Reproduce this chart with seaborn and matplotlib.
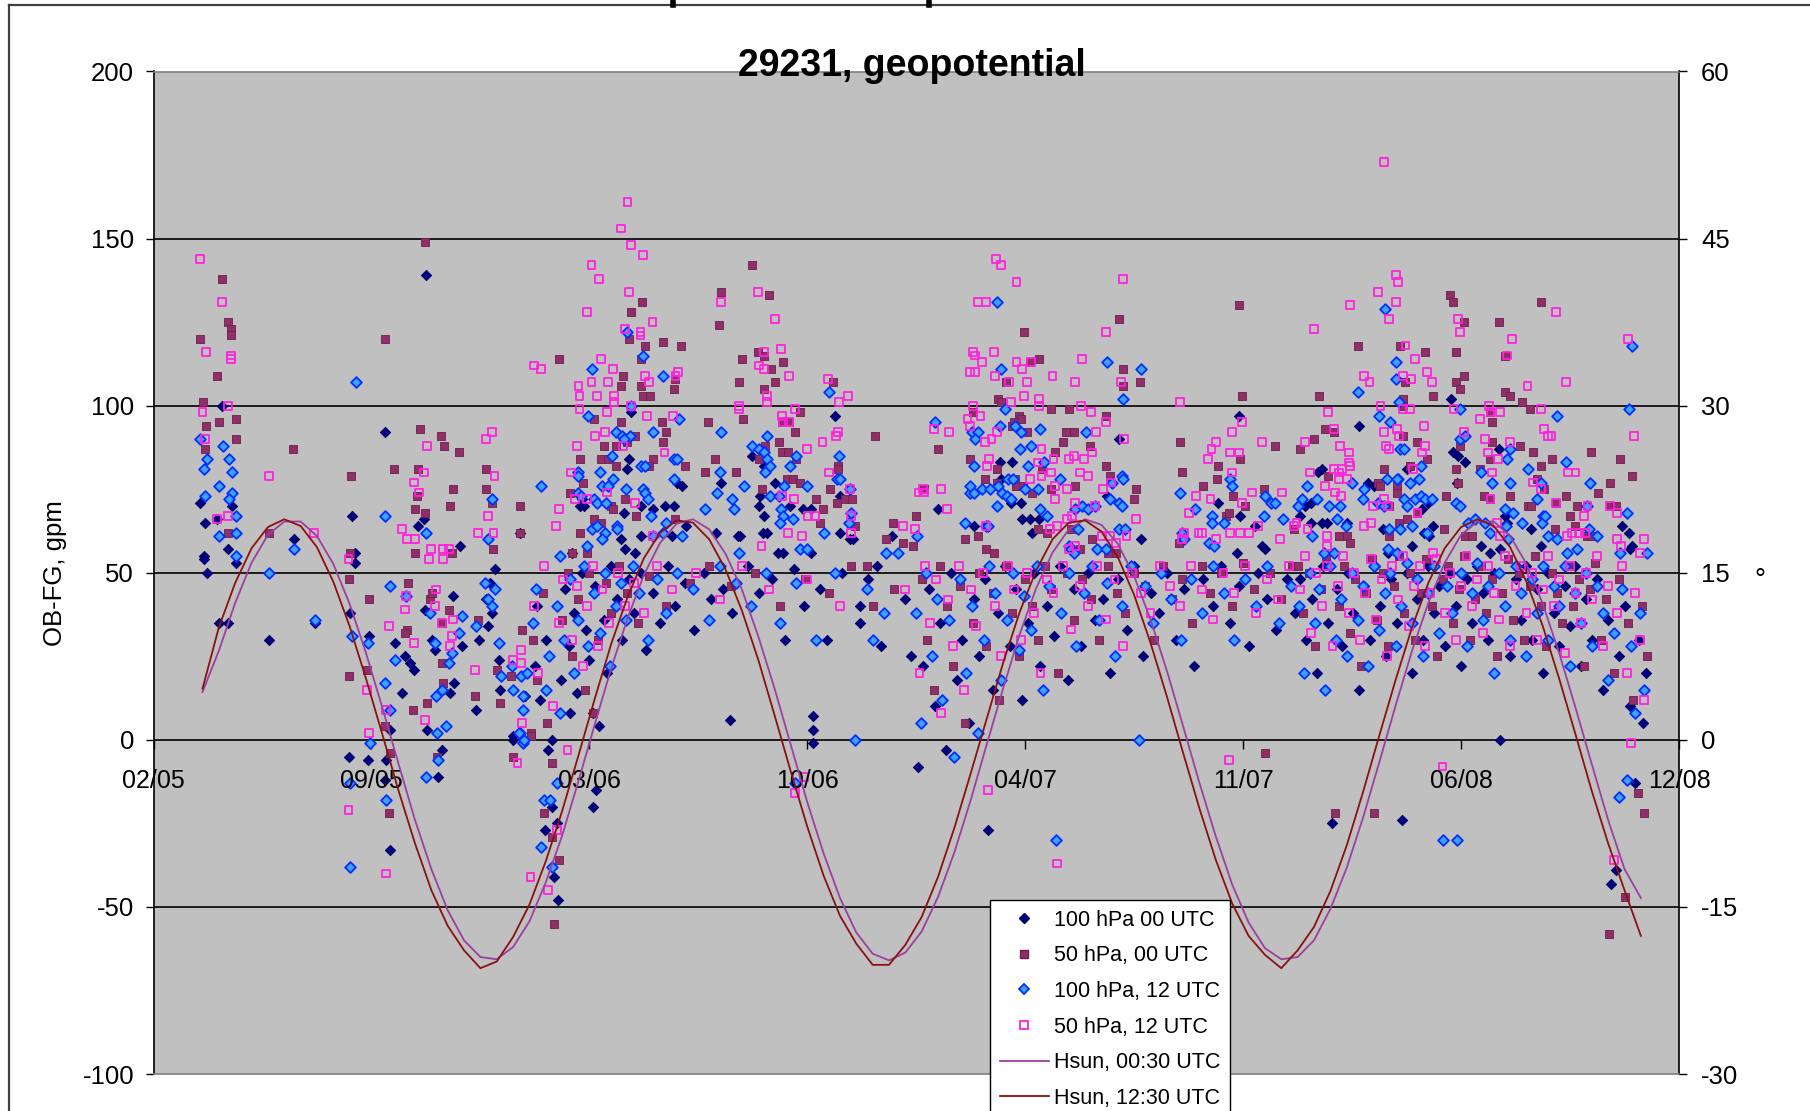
import numpy as np
import pandas as pd
import matplotlib
matplotlib.use("Agg")
import matplotlib.pyplot as plt
import matplotlib.dates as mdates
from matplotlib.lines import Line2D
import seaborn as sns

START = pd.Timestamp("2005-02-18")   # left end of the date axis
SPAN_DAYS = 1400
TICK_STEP = 200
x_tick_labels = ["02/05", "09/05", "03/06", "10/06", "04/07", "11/07", "06/08", "12/08"]

# OB-FG departures (gpm) as (day since START, value)
obs_100_00 = [
    (250, 139), (63, 100), (43, 71), (72, 70), (58, 66), (47, 65), (68, 57), (46, 55), (182, 67), (212, 92),
    (129, 60), (185, 56), (248, 66), (243, 64), (281, 58), (336, 62),
    (46, 54), (76, 53), (49, 50), (60, 35), (68, 35), (106, 30), (148, 35), (185, 53), (180, 38), (198, 31),
    (217, 3), (179, -5), (197, -6), (213, -6), (212, -12), (217, -33), (222, 29), (231, 25), (235, 23), (239, 21),
    (228, 14), (251, 3), (265, -3), (261, -11), (249, 39), (256, 30), (258, 27), (275, 43), (272, 14), (276, 17),
    (283, 28), (307, 34), (299, 30), (296, 9), (318, 15), (317, 24), (341, 13), (330, 0), (313, 51), (309, 47),
    (311, 38), (305, 42),
    (366, -20), (359, -27), (370, -25), (403, -20), (406, -15), (409, 4), (403, 8), (382, 8), (330, 1), (366, 0),
    (529, 6), (605, 7), (605, 3), (605, -1),
    (438, 98), (436, 84), (435, 81), (480, 77), (485, 76), (393, 72), (391, 70), (395, 70), (432, 68), (447, 70),
    (458, 69), (469, 70), (478, 70), (429, 60), (447, 61), (433, 57), (442, 56), (384, 56), (549, 85), (520, 80),
    (560, 82), (521, 77), (570, 77), (557, 73), (556, 70), (584, 70), (596, 69), (603, 69), (560, 67), (516, 62),
    (536, 61), (538, 61), (559, 62), (563, 62), (573, 56), (578, 56), (603, 56), (625, 97), (630, 73), (639, 60),
    (642, 60), (630, 62), (678, 61), (489, 64), (476, 61),
    (996, 97), (720, 69), (777, 83), (788, 83), (778, 78), (785, 72), (787, 71), (796, 71), (797, 66), (804, 66),
    (813, 66), (875, 73), (906, 60), (753, 64), (806, 62), (886, 90), (977, 71), (997, 67), (1011, 64), (1017, 58),
    (1020, 57), (1052, 67), (994, 56),
    (1191, 102), (1106, 94), (1193, 86), (1197, 85), (1204, 83), (1235, 87), (1069, 80), (1072, 81), (1115, 77),
    (1150, 81), (1196, 77), (1057, 70), (1068, 72), (1062, 71), (1164, 69), (1170, 71), (1062, 65), (1072, 65),
    (1077, 65), (1095, 65), (1128, 63), (1166, 62), (1174, 64), (1171, 61), (1155, 58), (1133, 56), (1240, 67),
    (1242, 65), (1264, 63), (1273, 58), (1218, 58), (1236, 57), (1227, 56), (1348, 64), (1354, 62), (1357, 58),
    (1355, 57), (1120, 76),
    (350, 22), (352, 40), (355, 12), (360, 30), (362, -3), (368, -41), (371, -48), (374, 18), (378, 45), (381, 28),
    (386, 38), (389, 14), (393, 50), (397, 33), (400, 24), (405, 46), (413, 36), (416, 20), (420, 52), (425, 42),
    (430, 30), (436, 48), (441, 38), (447, 50), (452, 27), (458, 44), (465, 35), (472, 52), (479, 40), (488, 47),
    (496, 33), (505, 50), (512, 42), (523, 45), (531, 38), (546, 52), (556, 44), (568, 48), (580, 30), (588, 51),
    (597, 40), (612, 45), (618, 30), (632, 50), (648, 35), (656, 48), (664, 52), (690, 42), (695, 25),
    (648, 40), (668, 28), (702, -8), (706, 22), (712, 45), (717, 10), (722, 35), (727, -3), (732, 50), (737, 18),
    (742, 30), (748, 5), (753, 42), (758, 25), (763, 48), (766, -27), (770, 15), (775, 38), (781, 52), (786, 28),
    (792, 45), (797, 12), (803, 35), (808, 50), (814, 22), (820, 40), (826, 31), (832, 52), (839, 18), (845, 45),
    (851, 28), (858, 50), (864, 36), (871, 42), (878, 20), (885, 48), (893, 33), (900, 52), (908, 25), (915, 44),
    (923, 38), (930, 50), (938, 30), (946, 45), (955, 22), (963, 48), (972, 40), (980, 52), (988, 35), (996, 46),
    (1005, 28), (1014, 50), (1022, 42), (1030, 33), (1040, 48), (1048, 38),
    (1052, 48), (1058, 30), (1063, 42), (1068, 20), (1073, 52), (1078, 35), (1082, -25), (1086, 45), (1091, 28),
    (1096, 50), (1101, 38), (1106, 15), (1111, 46), (1116, 30), (1121, 52), (1126, 40), (1131, 25), (1136, 48),
    (1141, 35), (1146, -24), (1150, 50), (1155, 20), (1160, 42), (1165, 30), (1170, 52), (1175, 38), (1180, 46),
    (1185, 28), (1190, 50), (1195, 40), (1200, 22), (1205, 48), (1210, 35), (1215, 52), (1220, 44), (1225, 30),
    (1230, 50), (1236, 0), (1240, 40), (1245, 25), (1250, 48), (1255, 36), (1260, 52), (1265, 30), (1270, 45),
    (1275, 20), (1280, 50), (1285, 38), (1290, 28), (1295, 46), (1300, 34), (1305, 52), (1310, 22), (1315, 42),
    (1320, 30), (1325, 48), (1330, 15), (1335, 36), (1338, -43), (1342, -39), (1345, 25), (1350, 40), (1355, 10),
    (1360, -13), (1363, 30), (1367, 5), (1370, 20),
]

obs_50_00 = [
    (63, 138), (68, 125), (71, 123), (71, 121), (43, 120), (58, 109), (212, 120), (249, 149), (45, 101), (48, 94),
    (60, 95), (76, 96), (76, 90), (47, 87), (128, 87), (181, 79), (106, 62), (180, 56), (221, 81), (243, 81),
    (242, 73), (240, 69), (249, 68), (245, 93), (264, 91), (267, 88), (280, 86), (275, 75), (272, 70), (240, 56),
    (274, 56), (305, 81), (305, 75), (311, 71), (312, 57), (336, 70), (336, 62), (68, 62),
    (179, 48), (198, 42), (196, 21), (179, 19), (212, 4), (217, -4), (216, -22), (234, 47), (233, 33), (231, 32),
    (238, 9), (251, 11), (260, -5), (254, 42), (256, 44), (265, 35), (271, 39), (265, 23), (266, 17), (298, 36),
    (295, 13), (318, 11), (315, 21), (328, 19), (338, 33), (346, 2), (330, -5),
    (366, -7), (358, -22), (366, -29), (403, 8), (346, 1),
    (448, 131), (438, 128), (436, 120), (451, 118), (468, 119), (484, 118), (447, 114), (372, 114), (431, 109),
    (479, 108), (429, 106), (447, 106), (449, 103), (456, 103), (478, 105), (404, 96), (429, 95), (467, 95),
    (470, 92), (442, 91), (413, 88), (424, 88), (435, 89), (468, 89), (391, 84), (411, 84), (417, 84), (458, 84),
    (424, 82), (455, 82), (488, 82), (394, 77), (382, 74), (420, 70), (422, 69), (433, 72), (443, 67), (479, 66),
    (404, 66), (411, 65), (391, 62), (384, 56), (398, 56),
    (549, 142), (521, 134), (565, 133), (519, 124), (540, 114), (555, 116), (560, 115), (578, 113), (567, 111),
    (537, 107), (570, 107), (560, 105), (593, 98), (541, 96), (509, 95), (577, 95), (583, 95), (589, 92), (574, 89),
    (561, 88), (577, 86), (582, 86), (556, 84), (590, 84), (515, 84), (535, 80), (506, 80), (581, 78), (587, 78),
    (593, 77), (558, 75), (608, 72), (614, 69), (612, 65), (624, 107), (628, 82), (628, 81), (621, 75), (635, 72),
    (641, 72), (627, 71), (644, 64), (662, 91), (679, 65), (700, 67), (672, 60), (688, 59), (697, 58),
    (886, 126), (996, 130), (799, 122), (804, 113), (813, 114), (890, 111), (905, 107), (782, 107), (890, 106),
    (775, 102), (778, 101), (999, 103), (824, 99), (840, 99), (752, 98), (794, 97), (796, 96), (788, 94), (874, 97),
    (837, 92), (845, 92), (802, 92), (790, 95), (942, 89), (1029, 88), (1052, 87), (997, 84), (720, 87), (749, 84),
    (835, 89), (859, 88), (827, 86), (774, 81), (815, 81), (874, 82), (878, 79), (707, 75), (763, 78), (774, 77),
    (791, 78), (792, 76), (798, 76), (806, 74), (824, 75), (846, 76), (902, 75), (900, 72), (944, 80), (963, 76),
    (977, 82), (976, 78), (991, 73), (1002, 70), (1019, 75), (984, 67), (987, 68), (745, 60), (757, 61), (764, 57),
    (771, 56), (812, 63), (820, 62), (842, 63), (850, 57), (861, 60), (876, 56), (883, 56), (941, 59), (1047, 63),
    (1190, 133), (1193, 131), (1273, 131), (1203, 125), (1235, 125), (1105, 118), (1144, 118), (1167, 116),
    (1195, 116), (1240, 115), (1149, 107), (1203, 109), (1195, 107), (1070, 103), (1174, 103), (1199, 105),
    (1147, 102), (1240, 104), (1245, 103), (1256, 101), (1147, 100), (1263, 99), (1227, 98), (1075, 93), (1083, 92),
    (1147, 91), (1228, 95), (1065, 90), (1160, 89), (1169, 84), (1199, 88), (1228, 89), (1227, 84), (1254, 88),
    (1266, 86), (1283, 84), (1319, 86), (1346, 84), (1273, 82), (1357, 79), (1337, 77), (1326, 74), (1078, 79),
    (1129, 81), (1124, 77), (1126, 76), (1153, 82), (1141, 76), (1141, 74), (1217, 81), (1195, 81), (1197, 77),
    (1270, 78), (1276, 75), (1134, 70), (1186, 73), (1221, 73), (1227, 72), (1245, 73), (1261, 70), (1264, 70),
    (1287, 71), (1296, 73), (1306, 70), (1300, 67), (1337, 70), (1342, 70), (1088, 61), (1095, 61), (1098, 59),
    (1134, 61), (1143, 65), (1150, 66), (1184, 63), (1204, 61), (1210, 61), (1286, 63), (1305, 64), (1316, 61),
    (1319, 61), (1160, 68),
    (348, 30), (352, 18), (357, 44), (361, 5), (368, -55), (372, -36), (375, 36), (380, 50), (384, 25), (390, 42),
    (396, 15), (400, 50), (408, 30), (415, 47), (420, 38), (427, 52), (435, 44), (445, 35), (455, 49), (470, 40),
    (492, 47), (510, 52), (530, 46), (552, 50), (575, 40), (598, 48), (620, 44), (640, 52), (660, 40),
    (655, 52), (680, 45), (705, 48), (710, 30), (716, 15), (722, 52), (728, 40), (734, 22), (740, 46), (745, 5),
    (752, 35), (758, 50), (764, 28), (770, 44), (776, 12), (782, 52), (788, 38), (794, 25), (800, 48), (806, 40),
    (812, 30), (818, 52), (824, 45), (830, 20), (838, 50), (845, 36), (852, 48), (860, 42), (868, 30), (876, 52),
    (884, 44), (892, 38), (900, 50), (910, 46), (918, 30), (926, 52), (935, 42), (944, 48), (953, 35), (962, 52),
    (970, 44), (980, 50), (990, 40), (1000, 53), (1010, 45), (1020, -4), (1025, 50), (1035, 42), (1045, 52),
    (1050, 52), (1055, 38), (1060, 50), (1066, 28), (1071, 45), (1076, 55), (1084, -22), (1088, 40), (1093, 52),
    (1098, 32), (1103, 48), (1108, 22), (1113, 44), (1118, 54), (1120, -22), (1123, 36), (1128, 50), (1133, 28),
    (1138, 46), (1143, 55), (1148, 38), (1153, 50), (1158, 30), (1163, 44), (1168, 54), (1173, 40), (1178, 25),
    (1183, 48), (1188, 52), (1193, 35), (1198, 45), (1203, 55), (1208, 30), (1213, 42), (1218, 52), (1223, 38),
    (1228, 48), (1233, 25), (1238, 44), (1243, 54), (1248, 36), (1253, 50), (1258, 30), (1263, 46), (1268, 55),
    (1273, 40), (1278, 28), (1283, 50), (1288, 44), (1293, 35), (1298, 52), (1303, 40), (1308, 48), (1313, 22),
    (1318, 45), (1323, 53), (1328, 30), (1333, 42), (1336, -58), (1340, 20), (1345, 48), (1350, -47), (1353, 35),
    (1358, 12), (1362, -16), (1366, 40), (1368, -22), (1371, 25),
]

obs_100_12 = [
    (186, 107), (43, 90), (64, 88), (49, 84), (69, 84), (46, 81), (72, 80), (60, 76), (72, 74), (47, 73), (69, 72),
    (76, 67), (60, 61), (76, 62), (212, 67), (129, 57), (76, 55), (250, 62), (311, 72), (307, 60),
    (106, 50), (148, 36), (182, 31), (197, 29), (212, 17), (217, 9), (199, -1), (180, -13), (213, -18), (180, -38),
    (217, 46), (232, 43), (222, 24), (260, 2), (268, 4), (261, -6), (250, -11), (254, 38), (258, 29), (280, 32),
    (274, 26), (271, 23), (259, 13), (265, 15), (296, 34), (317, 29), (319, 19), (329, 22), (337, 19), (343, 20),
    (330, 15), (339, 13), (339, 9), (336, 2), (339, -1), (313, 45), (307, 42), (304, 47), (311, 40), (283, 37),
    (358, -18), (364, -18), (370, -13), (335, 2), (340, 0), (589, -13),
    (435, 122), (449, 115), (402, 111), (468, 109), (438, 100), (399, 97), (482, 96), (424, 92), (430, 91),
    (437, 91), (432, 90), (458, 92), (421, 85), (478, 84), (480, 84), (447, 82), (451, 82), (390, 80), (390, 79),
    (410, 80), (422, 78), (478, 78), (356, 76), (412, 76), (417, 76), (434, 75), (449, 75), (451, 74), (390, 74),
    (392, 73), (404, 72), (407, 71), (415, 71), (454, 72), (457, 67), (402, 63), (407, 64), (414, 62), (425, 64),
    (425, 63), (458, 61), (412, 60), (398, 58), (373, 55), (468, 62), (470, 65), (506, 69), (485, 61),
    (521, 92), (563, 91), (549, 88), (556, 87), (560, 86), (590, 85), (563, 84), (566, 82), (520, 80), (561, 80),
    (584, 82), (542, 76), (579, 76), (600, 76), (566, 73), (574, 73), (517, 74), (531, 72), (533, 69), (576, 69),
    (578, 67), (587, 66), (575, 65), (615, 62), (537, 56), (593, 57), (600, 57), (620, 104), (629, 85), (627, 78),
    (630, 78), (639, 75), (638, 65), (640, 68), (672, 56), (683, 56), (701, 61),
    (774, 131), (875, 113), (778, 111), (906, 111), (890, 102), (717, 95), (781, 99), (751, 92), (757, 92),
    (754, 90), (791, 94), (777, 94), (814, 93), (796, 92), (856, 92), (795, 87), (805, 88), (753, 82), (803, 82),
    (817, 83), (889, 79), (890, 78), (880, 77), (749, 74), (749, 76), (753, 74), (775, 76), (784, 78), (789, 78),
    (760, 75), (768, 75), (779, 74), (783, 73), (787, 72), (800, 75), (812, 75), (832, 78), (774, 70), (814, 69),
    (820, 67), (846, 69), (852, 70), (858, 69), (864, 70), (878, 72), (886, 71), (889, 70), (886, 63), (892, 63),
    (764, 64), (766, 64), (745, 65), (848, 63), (840, 58), (842, 57), (845, 56), (866, 57), (874, 57),
    (942, 74), (988, 78), (990, 76), (1020, 73), (1026, 71), (1029, 71), (1037, 66), (1050, 70), (1054, 72),
    (956, 69), (971, 67), (1019, 67), (944, 62), (946, 60), (971, 65), (982, 65), (969, 59), (973, 58),
    (1130, 129), (1357, 118), (1140, 113), (1140, 108), (1105, 104), (1143, 101), (1199, 99), (1288, 97),
    (1354, 99), (1125, 97), (1135, 95), (1199, 90), (1204, 91), (1144, 87), (1148, 87), (1245, 87), (1242, 84),
    (1296, 83), (1261, 81), (1318, 77), (1100, 77), (1132, 78), (1142, 78), (1111, 75), (1153, 77), (1161, 78),
    (1163, 82), (1218, 80), (1228, 77), (1245, 77), (1273, 77), (1059, 76), (1068, 72), (1079, 70), (1089, 70),
    (1110, 72), (1124, 71), (1129, 70), (1141, 78), (1148, 72), (1150, 70), (1158, 72), (1163, 73), (1167, 72),
    (1173, 72), (1195, 71), (1199, 70), (1240, 69), (1270, 72), (1275, 67), (1316, 70), (1352, 68), (1086, 66),
    (1094, 64), (1063, 61), (1074, 56), (1083, 56), (1134, 63), (1144, 63), (1155, 64), (1169, 62), (1206, 65),
    (1213, 66), (1222, 65), (1227, 62), (1241, 64), (1243, 60), (1248, 68), (1256, 65), (1274, 65), (1277, 67),
    (1280, 61), (1288, 60), (1317, 63), (1325, 61), (1297, 56), (1306, 57), (1346, 56), (1371, 56), (1133, 57),
    (1141, 56),
    (348, 35), (351, 45), (356, -32), (360, 15), (363, 25), (366, -38), (370, 40), (373, 8), (377, 30), (382, 48),
    (386, 20), (390, 36), (395, 52), (399, 28), (404, 44), (410, 32), (414, 50), (419, 22), (424, 40), (429, 47),
    (434, 36), (440, 52), (446, 44), (454, 30), (462, 48), (470, 38), (480, 50), (495, 45), (510, 36), (520, 52),
    (535, 47), (548, 40), (562, 50), (575, 35), (590, 47), (608, 30), (625, 50), (644, 0), (655, 45), (670, 38),
    (660, 30), (700, 38), (704, 5), (709, 50), (714, 25), (719, 42), (724, 12), (730, 36), (735, -5), (740, 48),
    (746, 20), (751, 40), (757, 2), (762, 30), (767, 52), (772, 44), (778, 18), (783, 36), (789, 50), (794, 27),
    (799, 43), (805, 33), (811, 52), (816, 15), (822, 46), (828, -30), (833, 38), (840, 50), (847, 28), (854, 44),
    (861, 52), (868, 36), (875, 47), (882, 25), (889, 40), (897, 52), (904, 0), (910, 46), (917, 35), (925, 50),
    (934, 42), (943, 30), (952, 48), (962, 38), (972, 52), (982, 44), (992, 30), (1002, 48), (1012, 40), (1022, 52),
    (1033, 35), (1044, 46),
    (1051, 40), (1056, 20), (1061, 50), (1066, 35), (1070, 45), (1075, 15), (1080, 52), (1085, 30), (1090, 42),
    (1095, 25), (1100, 50), (1105, 36), (1110, 46), (1115, 22), (1120, 52), (1125, 33), (1130, 44), (1135, 50),
    (1140, 28), (1145, 40), (1150, 53), (1155, 35), (1160, 48), (1165, 25), (1170, 44), (1175, 52), (1180, 32),
    (1183, -30), (1187, 46), (1192, 38), (1196, -30), (1200, 50), (1205, 28), (1210, 44), (1215, 53), (1220, 36),
    (1225, 46), (1230, 20), (1235, 50), (1240, 40), (1245, 30), (1250, 52), (1255, 44), (1260, 25), (1265, 48),
    (1270, 38), (1275, 52), (1280, 30), (1285, 46), (1290, 40), (1295, 52), (1300, 22), (1305, 44), (1310, 35),
    (1315, 50), (1320, 28), (1325, 46), (1330, 38), (1335, 18), (1340, 32), (1345, -17), (1348, 45), (1352, -12),
    (1356, 28), (1360, 8), (1364, 38), (1368, 15),
]

obs_50_12 = [
    (43, 144), (63, 131), (48, 116), (71, 115), (71, 114), (45, 98), (68, 100), (47, 90), (106, 79), (68, 67),
    (58, 66), (147, 62), (251, 88), (248, 80), (239, 77), (244, 74), (228, 63), (233, 60), (240, 60), (305, 90),
    (311, 92), (313, 79), (307, 67), (298, 62), (312, 62), (255, 57), (266, 57), (271, 57), (349, 112),
    (179, 54), (213, 9), (198, 2), (179, -21), (196, 15), (213, -40), (216, 34), (232, 43), (231, 39), (239, 29),
    (249, 6), (259, 45), (258, 40), (265, 35), (275, 36), (274, 31), (272, 28), (295, 21), (338, 5), (334, -7),
    (330, 24), (337, 27), (337, 23), (346, -41), (253, 54), (266, 54),
    (370, -27), (589, -16),
    (435, 161), (429, 153), (438, 148), (449, 145), (402, 142), (409, 138), (436, 134), (398, 128), (458, 125),
    (433, 123), (447, 122), (447, 121), (356, 111), (411, 114), (422, 111), (451, 109), (455, 107), (479, 109),
    (481, 110), (390, 106), (391, 103), (391, 99), (402, 107), (417, 107), (407, 103), (423, 103), (423, 101),
    (438, 100), (416, 98), (453, 97), (477, 97), (405, 91), (414, 92), (389, 88), (431, 88), (469, 86), (383, 80),
    (387, 72), (398, 72), (416, 74), (442, 71), (372, 69), (369, 64), (458, 61),
    (521, 131), (555, 134), (570, 126), (560, 116), (576, 117), (556, 112), (560, 111), (583, 109), (563, 103),
    (563, 101), (537, 100), (537, 99), (589, 99), (577, 97), (578, 95), (583, 95), (600, 87), (620, 80), (577, 73),
    (588, 72), (601, 67), (607, 67), (582, 62), (595, 61), (558, 58), (619, 108), (629, 101), (637, 103),
    (628, 92), (626, 91), (614, 89), (639, 75), (640, 67), (640, 62), (688, 64), (699, 63), (702, 74),
    (773, 144), (778, 142), (792, 137), (890, 138), (757, 131), (764, 131), (874, 122), (752, 116), (754, 115),
    (771, 116), (760, 113), (792, 113), (797, 111), (805, 113), (749, 110), (754, 110), (772, 109), (785, 107),
    (802, 107), (825, 109), (846, 107), (852, 114), (888, 107), (799, 103), (813, 102), (813, 100), (787, 101),
    (752, 100), (851, 100), (942, 101), (747, 96), (759, 97), (716, 93), (730, 92), (749, 94), (774, 92),
    (860, 98), (874, 95), (865, 92), (891, 90), (763, 89), (769, 90), (815, 87), (971, 87), (975, 89), (968, 84),
    (990, 92), (999, 95), (1017, 89), (988, 86), (996, 86), (826, 84), (840, 84), (845, 85), (854, 84), (861, 86),
    (767, 84), (812, 83), (765, 82), (815, 79), (824, 80), (850, 80), (858, 79), (706, 75), (707, 74), (723, 75),
    (728, 69), (804, 78), (827, 76), (827, 72), (838, 75), (871, 75), (879, 77), (846, 71), (864, 70), (902, 66),
    (893, 61), (990, 80), (1008, 74), (1036, 74), (957, 73), (970, 72), (999, 71), (950, 68), (1047, 64),
    (1049, 65), (1014, 64), (764, 64), (823, 63), (829, 64), (838, 66), (843, 67), (840, 57), (846, 58), (870, 61),
    (878, 61), (883, 59), (944, 60), (946, 62), (959, 62), (962, 62), (975, 60), (988, 62), (997, 62), (1005, 62),
    (1034, 60),
    (1129, 173), (1142, 137), (1140, 139), (1124, 134), (1140, 131), (1287, 128), (1098, 130), (1134, 126),
    (1197, 126), (1065, 123), (1199, 122), (1247, 120), (1149, 118), (1353, 120), (1242, 115), (1158, 114),
    (1169, 110), (1111, 109), (1116, 107), (1147, 109), (1154, 108), (1173, 107), (1261, 106), (1296, 107),
    (1126, 100), (1147, 99), (1153, 99), (1193, 99), (1226, 100), (1227, 98), (1236, 98), (1273, 99), (1078, 98),
    (1083, 93), (1129, 92), (1141, 93), (1143, 91), (1166, 94), (1203, 92), (1217, 96), (1276, 93), (1280, 91),
    (1283, 91), (1359, 91), (1057, 89), (1097, 86), (1089, 88), (1131, 88), (1134, 87), (1167, 88), (1164, 86),
    (1222, 90), (1225, 86), (1245, 89), (1234, 84), (1298, 80), (1305, 80), (1061, 80), (1083, 81), (1088, 80),
    (1091, 81), (1098, 82), (1097, 83), (1095, 78), (1088, 78), (1156, 81), (1228, 80), (1266, 77), (1273, 75),
    (1084, 74), (1090, 73), (1075, 76), (1119, 70), (1129, 72), (1133, 70), (1160, 68), (1227, 72), (1287, 71),
    (1313, 67), (1316, 70), (1337, 70), (1343, 68), (1059, 63), (1077, 61), (1077, 58), (1111, 64), (1117, 65),
    (1174, 56), (1233, 65), (1236, 61), (1297, 61), (1302, 62), (1308, 62), (1314, 62), (1343, 60), (1347, 58),
    (1368, 60), (1364, 56),
    (349, 40), (353, 20), (358, 52), (362, -45), (367, 10), (372, 35), (376, 48), (380, -3), (384, 30), (389, 46),
    (394, 22), (398, 40), (403, 52), (408, 28), (412, 45), (418, 35), (426, 50), (433, 40), (441, 47), (450, 38),
    (462, 52), (476, 45), (498, 50), (520, 42), (540, 52), (565, 45), (597, -11), (600, 48), (630, 40),
    (690, 45), (703, 20), (708, 52), (713, 35), (718, 48), (723, 8), (729, 42), (734, 28), (739, 52), (744, 15),
    (750, 45), (755, 34), (761, 50), (766, -15), (772, 40), (778, 25), (784, 52), (790, 45), (796, 30), (802, 50),
    (808, 38), (814, 20), (820, 48), (826, 44), (829, -37), (835, 52), (842, 33), (850, 46), (858, 40), (866, 52),
    (874, 36), (882, 48), (890, 28), (898, 50), (906, 44), (915, 38), (924, 52), (933, 46), (942, 40), (952, 52),
    (962, 45), (972, 36), (982, 50), (987, -6), (992, 44), (1002, 52), (1012, 38), (1022, 48), (1032, 42),
    (1042, 52),
    (1052, 45), (1057, 55), (1062, 32), (1067, 50), (1072, 40), (1077, 52), (1082, 28), (1087, 46), (1092, 55),
    (1097, 38), (1102, 50), (1107, 30), (1112, 44), (1117, 54), (1122, 36), (1127, 48), (1132, 25), (1137, 52),
    (1142, 42), (1147, 55), (1152, 34), (1157, 46), (1162, 52), (1167, 28), (1172, 44), (1177, 54), (1183, -8),
    (1185, 38), (1190, 50), (1195, 30), (1200, 46), (1205, 55), (1210, 40), (1215, 48), (1220, 32), (1225, 52),
    (1230, 44), (1235, 36), (1240, 55), (1245, 28), (1250, 46), (1255, 52), (1260, 38), (1265, 50), (1270, 30),
    (1275, 45), (1280, 55), (1285, 40), (1290, 48), (1295, 26), (1300, 52), (1305, 44), (1310, 35), (1315, 50),
    (1320, 42), (1325, 55), (1330, 28), (1335, 46), (1340, -36), (1343, 38), (1348, 52), (1352, 20), (1356, -1),
    (1360, 44), (1364, 30), (1368, 12),
]

# Solar elevation (degrees), sampled every 15 days from day 45
hsun_day = list(range(45, 1366, 15))
hsun_0030 = [
    4.3, 8.0, 12.3, 15.9, 18.4, 19.6, 19.6, 18.3, 15.8, 12.2, 7.8, 2.9, -2.2, -7.2, -11.6, -15.3, -18.0, -19.5,
    -19.7, -18.6, -16.3, -12.8, -8.6, -3.7, 1.4, 6.4, 10.9, 14.8, 17.7, 19.4, 19.8, 18.9, 16.7, 13.5, 9.3, 4.6,
    -0.5, -5.6, -10.2, -14.2, -17.3, -19.2, -19.8, -19.1, -17.2, -14.1, -10.1, -5.4, -0.3, 4.7, 9.5, 13.6, 16.8,
    18.9, 19.8, 19.3, 17.6, 14.7, 10.8, 6.2, 1.2, -3.9, -8.7, -13.0, -16.4, -18.7, -19.7, -19.5, -18.0, -15.2,
    -11.5, -7.0, -2.0, 3.1, 8.0, 12.3, 15.9, 18.4, 19.6, 19.6, 18.3, 15.8, 12.2, 7.8, 2.9, -2.2, -7.2, -11.6, -14.2,
]
hsun_1230 = [
    4.6, 10.1, 14.1, 17.2, 19.1, 19.8, 19.2, 17.3, 14.2, 10.2, 5.5, 0.5, -4.6, -9.3, -13.5, -16.7, -18.9, -20.5,
    -19.9, -17.7, -14.8, -10.9, -6.4, -1.4, 3.7, 8.6, 12.8, 16.3, 18.6, 19.7, 19.5, 18.0, 15.3, 11.6, 7.2, 2.2,
    -2.9, -7.8, -12.2, -15.8, -18.3, -20.2, -20.2, -18.4, -15.9, -12.3, -7.9, -3.0, 2.0, 7.0, 11.5, 15.2, 18.0,
    19.5, 19.7, 18.7, 16.4, 13.0, 8.7, 3.9, -1.2, -6.2, -10.8, -14.7, -17.6, -19.3, -20.5, -18.9, -16.8, -13.6,
    -9.5, -4.7, 0.4, 5.4, 10.1, 14.1, 17.2, 19.1, 19.8, 19.2, 17.3, 14.2, 10.2, 5.5, 0.5, -4.6, -9.3, -13.5, -17.6,
]


def to_frame(points):
    df = pd.DataFrame(points, columns=["day", "value"])
    df["date"] = START + pd.to_timedelta(df["day"], unit="D")
    return df


W, H = 1810, 1111
plt.rcParams["font.family"] = ["Liberation Sans", "DejaVu Sans"]
plt.rcParams["axes.unicode_minus"] = False
fig = plt.figure(figsize=(W / 100, H / 100), dpi=100)
fig.patch.set_facecolor("white")

left, right, top, bottom = 153.5, 1679, 71.5, 1074
ax = fig.add_axes([left / W, 1 - bottom / H, (right - left) / W, (bottom - top) / H])
ax.set_facecolor("#C0C0C0")

x0 = START
x1 = START + pd.Timedelta(days=SPAN_DAYS)

series = [
    (obs_100_00, dict(marker="D", s=28, color="#000080", edgecolor="#000060", linewidth=0.6)),
    (obs_50_00, dict(marker="s", s=28, color="#8E2F68", edgecolor="#6E1E50", linewidth=0.6)),
    (obs_100_12, dict(marker="D", s=30, color="#40A0FF", edgecolor="#0030FF", linewidth=1.3)),
    (obs_50_12, dict(marker="s", s=32, color="none", edgecolor="#FF22DD", linewidth=1.3)),
]
for i, (pts, style) in enumerate(series):
    sns.scatterplot(data=to_frame(pts), x="date", y="value", ax=ax, legend=False, zorder=3 + i, **style)

ax.set_xlim(x0, x1)
ax.set_ylim(-100, 200)
ax.set_yticks(np.arange(-100, 201, 50))
ax.set_xticks([])
ax.set_xlabel("")
ax.set_ylabel("")
for yv in (-50, 0, 50, 100, 150):
    ax.axhline(yv, color="black", lw=1.2, zorder=1)
ax.tick_params(axis="y", direction="out", length=6, width=1, color="black",
               labelsize=18.5, pad=8)
for side in ("left", "right"):
    ax.spines[side].set_color("black")
    ax.spines[side].set_linewidth(1.2)
for side in ("top", "bottom"):
    ax.spines[side].set_color("#808080")
    ax.spines[side].set_linewidth(1.2)

# date labels hang below the zero line
tick_dates = [START + pd.Timedelta(days=TICK_STEP * k) for k in range(len(x_tick_labels))]
ax.vlines(tick_dates, -2.7, 0, color="black", lw=1, zorder=2, clip_on=False)
for d, lab in zip(tick_dates, x_tick_labels):
    ax.annotate(lab, xy=(mdates.date2num(d), 0), xycoords="data", xytext=(0, -30),
                textcoords="offset points", ha="center", va="center", fontsize=18,
                annotation_clip=False, zorder=6)

# solar elevation on the secondary axis
ax2 = ax.twinx()
sun = pd.DataFrame({"date": START + pd.to_timedelta(hsun_day, unit="D"),
                    "h0030": hsun_0030, "h1230": hsun_1230})
sns.lineplot(data=sun, x="date", y="h0030", ax=ax2, color="#9B3FA0", lw=1.3)
sns.lineplot(data=sun, x="date", y="h1230", ax=ax2, color="#8B1010", lw=1.3)
ax2.set_xlim(x0, x1)
ax2.set_ylim(-30, 60)
ax2.set_yticks(np.arange(-30, 61, 15))
ax2.set_xlabel("")
ax2.set_ylabel("")
ax2.tick_params(axis="y", direction="out", length=6, width=1, color="black",
                labelsize=18.5, pad=10)
for side in ("top", "bottom", "left", "right"):
    ax2.spines[side].set_visible(False)

fig.text(912 / W, 1 - 66.5 / H, "29231, geopotential", ha="center", va="center",
         fontsize=27, fontweight="bold")
fig.text(55 / W, 1 - 573 / H, "OB-FG, gpm", rotation=90, ha="center", va="center", fontsize=18.5)
fig.text(1760 / W, 1 - 581 / H, "°", ha="center", va="center", fontsize=20)

handles = [
    Line2D([], [], ls="none", marker="D", ms=5, mfc="#000080", mec="#000060"),
    Line2D([], [], ls="none", marker="s", ms=5.5, mfc="#8E2F68", mec="#6E1E50"),
    Line2D([], [], ls="none", marker="D", ms=5, mfc="#40A0FF", mec="#0030FF", mew=1.3),
    Line2D([], [], ls="none", marker="s", ms=5.5, mfc="none", mec="#FF22DD", mew=1.3),
    Line2D([], [], color="#9B3FA0", lw=1.3),
    Line2D([], [], color="#8B1010", lw=1.3),
]
labels = ["100 hPa 00 UTC", "50 hPa, 00 UTC", "100 hPa, 12 UTC", "50 hPa, 12 UTC",
          "Hsun, 00:30 UTC", "Hsun, 12:30 UTC"]
leg = fig.legend(handles, labels, loc="upper left", bbox_to_anchor=(990 / W, 1 - 900 / H),
                 fontsize=15.5, frameon=True, fancybox=False, shadow=False, framealpha=1,
                 edgecolor="black", facecolor="white", handlelength=2.3, handletextpad=0.2,
                 labelspacing=0.68, borderpad=0.45, borderaxespad=0)
leg.get_frame().set_linewidth(1.0)

# chart-area border and the clipped marks above it
fig.add_artist(Line2D([9 / W, 9 / W], [0, 1 - 5 / H], color="#404040", lw=1.6))
fig.add_artist(Line2D([9 / W, 1], [1 - 5 / H, 1 - 5 / H], color="#404040", lw=1.6))
for xm in (673, 929):
    fig.add_artist(Line2D([xm / W, xm / W], [1 - 5 / H, 1], color="black", lw=4))

fig.savefig("out.png", dpi=100)
